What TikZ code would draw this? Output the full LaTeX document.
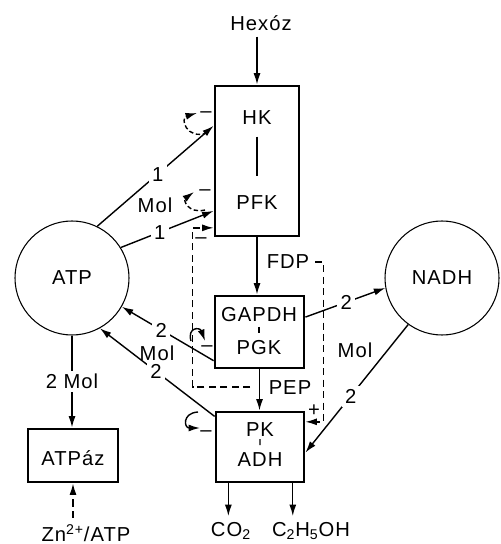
\documentclass[tikz,border=0pt]{standalone}
\usepackage{fontspec}
\setmainfont{Liberation Sans}[LetterSpace=5]
\usetikzlibrary{arrows.meta, calc}

\begin{document}
\begin{tikzpicture}[
  x=0.2mm, y=-0.2mm,
  font=\fontsize{11.5}{13}\selectfont, >=Latex,
  enz/.style={draw, line width=1.6pt, inner sep=0pt},
  pool/.style={circle, draw, line width=0.6pt, minimum size=22.8mm, inner sep=0pt},
  num/.style={fill=white, inner sep=2pt},
  sgn/.style={inner sep=0pt},
  arr/.style={-{Latex[length=2.3mm, width=1.4mm]}, line width=0.8pt},
  darr/.style={arr, dash pattern=on 4pt off 2.5pt},
  curl/.style={arr, dash pattern=on 2.5pt off 1.5pt},
]
\useasboundingbox (0,0) rectangle (500,544);

% ---- enzyme boxes (main chain, top -> bottom) ----
\node[enz, minimum width=16.8mm, minimum height=30mm] (hkbox) at (257,161) {};
\node (hk)  at (257,118) {HK};
\node (pfk) at (257,203) {PFK};
\draw[line width=0.8pt] ($(hk)!0.22!(pfk)$) -- ($(hk)!0.68!(pfk)$);

\node[enz, minimum width=17.8mm, minimum height=14.4mm] (gapbox) at (259.5,332) {};
\node (gapdh) at (259,315) {GAPDH};
\node (pgk)   at (259,348) {PGK};
\draw[line width=0.8pt] ($(gapdh)!0.36!(pgk)$) -- ($(gapdh)!0.54!(pgk)$);

\node[enz, minimum width=17.6mm, minimum height=14mm] (pkbox) at (260,447) {};
\node (pk)  at (260,430) {PK};
\node (adh) at (260,460) {ADH};
\draw[line width=0.8pt] ($(pk)!0.3!(adh)$) -- ($(pk)!0.5!(adh)$);

\node[enz, minimum width=18mm, minimum height=10.6mm] (atpbox) at (73,455.5) {};
\node (atpaz) at (73,458) {ATPáz};

% ---- pools ----
\node[pool] (atp)  at (72,278)  {ATP};
\node[pool] (nadh) at (442,278) {NADH};

% ---- substrates, products ----
\node (hex)  at (261,23)  {Hexóz};
\node (fdp)  at (288,262) {FDP};
\node (pep)  at (290,388) {PEP};
\node (co2)  at (231,531) {CO\textsubscript{2}};
\node (etoh) at (311,531) {C\textsubscript{2}H\textsubscript{5}OH};
\node (zn)   at (86,533)  {Zn\textsuperscript{2+}/ATP};

\draw[arr] (hex.south -| hkbox.north) -- (hkbox.north);
\draw[arr] (hkbox.south) -- (hkbox.south |- gapbox.north);
\draw[arr] (gapbox.south) -- (gapbox.south |- pkbox.north);
\draw[arr] (pkbox.229.4) -- (pkbox.229.4 |- co2.north);
\draw[arr] (pkbox.312.4) -- (pkbox.312.4 |- etoh.north);

% ---- ATP / NADH balance ----
\draw[arr] (atp.64) -- node[num, pos=0.52]{1} (hkbox.141);
\draw[arr] (atp.32) -- node[num, pos=0.42]{1} (hkbox.229);
\node at (155,205) {Mol};
\draw[arr] (gapbox.212.2) -- node[num, pos=0.57]{2} (atp.330);
\draw[arr] (pkbox.146.6) -- node[num, pos=0.51]{2} (atp.299);
\node at (157,353) {Mol};
\draw[arr] (gapbox.18.6) -- node[num, pos=0.51]{2} (nadh.190);
\draw[arr] (nadh.234.5) -- node[num, pos=0.56]{2} (pkbox.353.5);
\node at (355,350) {Mol};
\draw[arr] (atp.south) -- node[num]{2 Mol} (atp.south |- atpbox.north);
\draw[darr] (zn.north -| atpbox.south) -- (atpbox.south);

% ---- effectors: feed-forward (+) and inhibition (-) ----
\coordinate (pepfb) at (250,387);
\draw[darr] (fdp.east) -| ($(pkbox.29.6)+(18,0)$) -- (pkbox.29.6);
\node[sgn] at (314,411) {+};
\draw[darr] (pepfb) -| ($(hkbox.237.5)+(-21,0)$) -- (hkbox.237.5);
\node[sgn] at (201,241) {–};

\draw[curl] (207,133) .. controls (186,140) and (180,118) .. (197,113);
\node[sgn] at (206,115) {–};
\draw[curl] (205,210) .. controls (188,214) and (183,200) .. (194,192);
\node[sgn] at (205,193) {–};
\draw[arr] (191,341) .. controls (187,327) and (200,327) .. (205,341);
\node[sgn] at (207,349) {–};
\draw[arr] (198,412) .. controls (182,413) and (184,428) .. (200,428);
\node[sgn] at (206,434) {–};

\end{tikzpicture}
\end{document}
